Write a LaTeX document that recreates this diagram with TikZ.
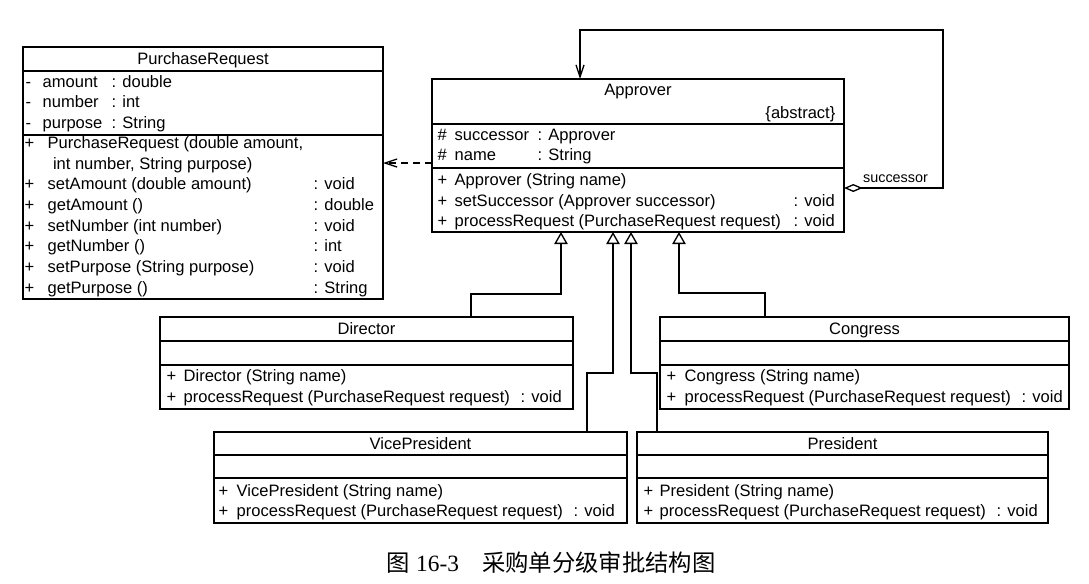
\documentclass[tikz,border=0pt]{standalone}
\usepackage{fontspec}
\setmainfont{Liberation Sans}
\newfontfamily\capserif{Liberation Serif}
\newfontfamily\cjk{Noto Sans CJK SC}
\usepackage{array}
\usetikzlibrary{arrows.meta,calc}

\newcommand{\umlfont}{\fontsize{12.4pt}{15.3pt}\selectfont}

\begin{document}
\begin{tikzpicture}[x=0.75pt, y=-0.75pt, line width=1pt,
  classbox/.style={draw, anchor=north west, inner sep=0pt, outer sep=0pt},
  cname/.style={anchor=base, inner sep=0pt, font=\umlfont},
  members/.style={anchor=base west, inner sep=0pt, font=\umlfont},
  gen/.style={-{Triangle[open, length=9pt, width=10pt]}},
  dep/.style={dash pattern=on 5pt off 4pt, -{Straight Barb[length=9pt, width=6pt]}},
  selfassoc/.style={{Diamond[open, length=14pt, width=6pt]}-{Straight Barb[length=9pt, width=6pt]}}
]

\useasboundingbox (0,0) rectangle (1089,583);

% Define the class boxes
\node[classbox, minimum width=270pt, minimum height=189pt] (pr) at (23,47) {};
\node[classbox, minimum width=309pt, minimum height=114.75pt] (approver) at (432,79) {};
\node[classbox, minimum width=309.75pt, minimum height=69pt] (director) at (160,317) {};
\node[classbox, minimum width=306.75pt, minimum height=69pt] (congress) at (660,317) {};
\node[classbox, minimum width=309.75pt, minimum height=68.25pt] (vp) at (214,432) {};
\node[classbox, minimum width=308.25pt, minimum height=68.25pt] (president) at (637,432) {};

% Compartment lines
\draw ($(pr.north west)+(0,24)$) -- ($(pr.north east)+(0,24)$);
\draw ($(pr.north west)+(0,88)$) -- ($(pr.north east)+(0,88)$);
\draw ($(approver.north west)+(0,45)$) -- ($(approver.north east)+(0,45)$);
\draw ($(approver.north west)+(0,89)$) -- ($(approver.north east)+(0,89)$);
\draw ($(director.north west)+(0,24)$) -- ($(director.north east)+(0,24)$);
\draw ($(director.north west)+(0,48)$) -- ($(director.north east)+(0,48)$);
\draw ($(congress.north west)+(0,24)$) -- ($(congress.north east)+(0,24)$);
\draw ($(congress.north west)+(0,48)$) -- ($(congress.north east)+(0,48)$);
\draw ($(vp.north west)+(0,23)$) -- ($(vp.north east)+(0,23)$);
\draw ($(vp.north west)+(0,46)$) -- ($(vp.north east)+(0,46)$);
\draw ($(president.north west)+(0,23)$) -- ($(president.north east)+(0,23)$);
\draw ($(president.north west)+(0,46)$) -- ($(president.north east)+(0,46)$);

% PurchaseRequest
\node[cname] (prname) at (203,64) {PurchaseRequest};
\node[members] (prattr) at (25,87.3) {\begin{tabular}[t]{@{}w{l}{12.75pt}@{}w{l}{51.75pt}@{}l@{}}
- & amount & : double\\
- & number & : int\\
- & purpose & : String
\end{tabular}};
\node[members, font=\fontsize{12.4pt}{15.55pt}\selectfont] (props) at (24,148.3) {\begin{tabular}[t]{@{}w{l}{17.25pt}@{}w{l}{199.5pt}@{}l@{}}
+ & PurchaseRequest (double amount, & \\
  & \hspace{4pt}int number, String purpose) & \\
+ & setAmount (double amount) & : void\\
+ & getAmount () & : double\\
+ & setNumber (int number) & : void\\
+ & getNumber () & : int\\
+ & setPurpose (String purpose) & : void\\
+ & getPurpose () & : String
\end{tabular}};

% Approver
\node[cname] (apname) at (638,95.5) {Approver};
\node[cname, anchor=base east] (apabstract) at (836,118) {\{abstract\}};
\node[members] (apattr) at (437,140.5) {\begin{tabular}[t]{@{}w{l}{12.75pt}@{}w{l}{62.25pt}@{}l@{}}
\# & successor & : Approver\\
\# & name & : String
\end{tabular}};
\node[members] (apops) at (437,185.7) {\begin{tabular}[t]{@{}w{l}{12.75pt}@{}w{l}{254.25pt}@{}l@{}}
+ & Approver (String name) & \\
+ & setSuccessor (Approver successor) & : void\\
+ & processRequest (PurchaseRequest request) & : void
\end{tabular}};

% Director
\node[cname] (dirname) at (366.5,334) {Director};
\node[members] (dirops) at (166,381.7) {\begin{tabular}[t]{@{}w{l}{12.75pt}@{}w{l}{252.75pt}@{}l@{}}
+ & Director (String name) & \\
+ & processRequest (PurchaseRequest request) & : void
\end{tabular}};

% Congress
\node[cname] (conname) at (864.5,334) {Congress};
\node[members] (conops) at (666,381.7) {\begin{tabular}[t]{@{}w{l}{13.5pt}@{}w{l}{252.75pt}@{}l@{}}
+ & Congress (String name) & \\
+ & processRequest (PurchaseRequest request) & : void
\end{tabular}};

% VicePresident
\node[cname] (vpname) at (420.5,449) {VicePresident};
\node[members] (vpops) at (218,496) {\begin{tabular}[t]{@{}w{l}{13.5pt}@{}w{l}{252.75pt}@{}l@{}}
+ & VicePresident (String name) & \\
+ & processRequest (PurchaseRequest request) & : void
\end{tabular}};

% President
\node[cname] (presname) at (842.5,449) {President};
\node[members] (presops) at (643,496) {\begin{tabular}[t]{@{}w{l}{12pt}@{}w{l}{252.75pt}@{}l@{}}
+ & President (String name) & \\
+ & processRequest (PurchaseRequest request) & : void
\end{tabular}};

% Ends of the connectors
\coordinate (g1) at ($(approver.south west)+(129,0)$);
\coordinate (g2) at ($(approver.south west)+(181,0)$);
\coordinate (g3) at ($(approver.south west)+(199,0)$);
\coordinate (g4) at ($(approver.south west)+(247,0)$);
\coordinate (dirin) at ($(director.north west)+(311,0)$);
\coordinate (conin) at ($(congress.north west)+(105,0)$);
\coordinate (vpin) at ($(vp.north west)+(373,0)$);
\coordinate (presin) at ($(president.north west)+(20,0)$);
\coordinate (depout) at ($(approver.north west)+(0,84)$);
\coordinate (selfout) at ($(approver.north east)+(0,109)$);
\coordinate (selfin) at ($(approver.north west)+(148,0)$);

% Generalizations
\draw[gen] (dirin) -- ++(0,-23) -| (g1);
\draw[gen] (conin) -- ++(0,-24) -| (g4);
\draw[gen] (vpin) -- ++(0,-59) -| (g2);
\draw[gen] (presin) -- ++(0,-59) -| (g3);

% Dependency on PurchaseRequest
\draw[dep] (depout) -- (depout -| pr.east);

% Successor aggregation
\draw[selfassoc] (selfout) -| ++(99,-158) -| (selfin);
\node[anchor=base, inner sep=0pt, font=\fontsize{10.8pt}{12pt}\selectfont] (succlbl) at (895.5,182.5) {successor};

% Caption
\node[anchor=base, inner sep=0pt, font=\fontsize{17.5pt}{20pt}\selectfont] (caption) at (551,571)
  {{\cjk 图} {\capserif 16-3}\quad{\cjk 采购单分级审批结构图}};

\end{tikzpicture}
\end{document}
